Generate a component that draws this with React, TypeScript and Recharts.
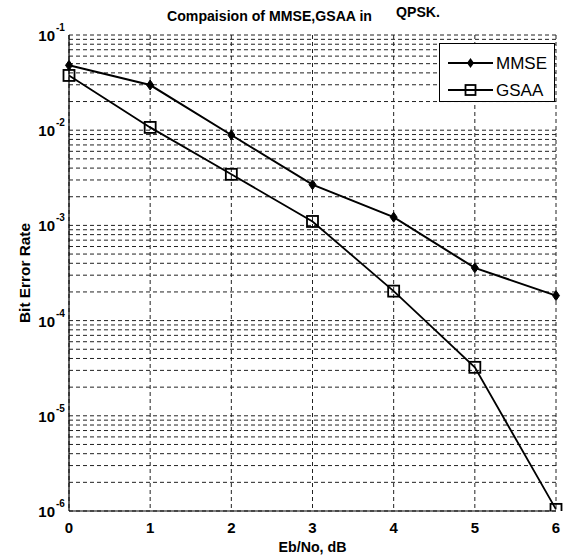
import React from "react";
import {
  LineChart,
  Line,
  XAxis,
  YAxis,
  CartesianGrid,
  Legend,
  Label,
} from "recharts";

// Eb/No (dB) and bit error rate
const ebNo = [0, 1, 2, 3, 4, 5, 6];
const mmseBer = [0.048, 0.0298, 0.0089, 0.00268, 0.00122, 0.000358, 0.000183];
const gsaaBer = [0.0376, 0.0107, 0.00344, 0.0011, 0.000204, 0.0000323, 0.00000104];

const xTicks = [0, 1, 2, 3, 4, 5, 6];
const yDecades = [1e-6, 1e-5, 1e-4, 1e-3, 1e-2, 1e-1];
const yMinorSteps = [2, 3, 4, 5, 6, 7, 8, 9];

const data = ebNo.map((x, i) => ({ x, mmse: mmseBer[i], gsaa: gsaaBer[i] }));

const yTicks: number[] = [];
yDecades.forEach((d, i) => {
  yTicks.push(d);
  if (i < yDecades.length - 1) yMinorSteps.forEach((m) => yTicks.push(m * d));
});

const FONT = "'Liberation Sans Narrow', 'Liberation Sans', Arial, sans-serif";

const isDecade = (v: number) => {
  const l = Math.log10(v);
  return Math.abs(l - Math.round(l)) < 1e-6;
};

const YTick = (props: any) => {
  const { x, y, payload } = props;
  if (!isDecade(payload.value)) return null;
  const exp = Math.round(Math.log10(payload.value));
  return (
    <g fontFamily={FONT} fontWeight="bold" fill="#000">
      <text x={x - 14} y={y + 6} textAnchor="end" fontSize={15}>
        10
      </text>
      <text x={x - 13} y={y - 4} textAnchor="start" fontSize={10}>
        {exp}
      </text>
    </g>
  );
};

const XTick = (props: any) => {
  const { x, y, payload } = props;
  return (
    <text x={x} y={y + 22} textAnchor="middle" fontFamily={FONT} fontWeight="bold" fontSize={15} fill="#000">
      {payload.value}
    </text>
  );
};

const DiamondDot = (props: any) => {
  const { cx, cy, index } = props;
  if (cx == null || cy == null) return null;
  return (
    <path
      key={`d-${index}`}
      d={`M${cx},${cy - 5} L${cx + 3.5},${cy} L${cx},${cy + 5} L${cx - 3.5},${cy} Z`}
      fill="#000"
      stroke="#000"
      strokeWidth={1}
    />
  );
};

const SquareDot = (props: any) => {
  const { cx, cy, index } = props;
  if (cx == null || cy == null) return null;
  return (
    <rect
      key={`s-${index}`}
      x={cx - 5.5}
      y={cy - 5.5}
      width={11}
      height={11}
      fill="none"
      stroke="#000"
      strokeWidth={1.8}
    />
  );
};

const LegendBox = () => (
  <svg width={116} height={59} style={{ display: "block", background: "#fff" }}>
    <rect x={0.5} y={0.5} width={115} height={58} fill="#fff" stroke="#000" strokeWidth={1} />
    <line x1={9} y1={20} x2={54} y2={20} stroke="#000" strokeWidth={2} />
    <path d="M31.5,15 L35,20 L31.5,25 L28,20 Z" fill="#000" />
    <text x={57} y={26} fontFamily={FONT} fontSize={17} fill="#000">
      MMSE
    </text>
    <line x1={9} y1={47} x2={54} y2={47} stroke="#000" strokeWidth={2} />
    <rect x={26.5} y={42} width={10} height={10} fill="none" stroke="#000" strokeWidth={1.8} />
    <text x={57} y={53} fontFamily={FONT} fontSize={17} fill="#000">
      GSAA
    </text>
  </svg>
);

const YLabel = (props: any) => {
  const { viewBox } = props;
  const cy = viewBox.y + viewBox.height / 2;
  return (
    <text
      transform={`translate(30, ${cy}) rotate(-90)`}
      textAnchor="middle"
      fontFamily={FONT}
      fontWeight="bold"
      fontSize={14}
      textLength={100}
      lengthAdjust="spacingAndGlyphs"
      fill="#000"
    >
      Bit Error Rate
    </text>
  );
};

const XLabel = (props: any) => {
  const { viewBox } = props;
  const cx = viewBox.x + viewBox.width / 2;
  return (
    <text
      x={cx}
      y={viewBox.y + 41}
      textAnchor="middle"
      fontFamily={FONT}
      fontWeight="bold"
      fontSize={15}
      textLength={68}
      lengthAdjust="spacingAndGlyphs"
      fill="#000"
    >
      Eb/No, dB
    </text>
  );
};

export default function App() {
  return (
    <div style={{ position: "absolute", left: 0, top: 0, width: 564, height: 560, background: "#fff" }}>
      <svg
        width={564}
        height={40}
        style={{ position: "absolute", left: 0, top: 0, pointerEvents: "none", zIndex: 2 }}
      >
        <text
          x={167}
          y={21}
          fontFamily={FONT}
          fontWeight="bold"
          fontSize={15}
          textLength={205}
          lengthAdjust="spacingAndGlyphs"
          fill="#000"
        >
          Compaision of MMSE,GSAA in
        </text>
        <text
          x={396}
          y={17}
          fontFamily={FONT}
          fontWeight="bold"
          fontSize={14}
          textLength={44}
          lengthAdjust="spacingAndGlyphs"
          fill="#000"
        >
          QPSK.
        </text>
      </svg>
      <LineChart width={564} height={560} data={data} margin={{ top: 35, right: 8, bottom: 0, left: 0 }}>
        <CartesianGrid stroke="#222" strokeDasharray="4 3" strokeWidth={1} />
        <XAxis
          dataKey="x"
          type="number"
          domain={[0, 6]}
          ticks={xTicks}
          height={49}
          tickLine={false}
          tickSize={0}
          tickMargin={0}
          tick={<XTick />}
          axisLine={{ stroke: "#000", strokeWidth: 1.2 }}
        >
          <Label content={<XLabel />} />
        </XAxis>
        <XAxis
          xAxisId="top"
          orientation="top"
          type="number"
          domain={[0, 1]}
          height={0}
          tick={false}
          tickLine={false}
          axisLine={{ stroke: "#000", strokeWidth: 1.2 }}
        />
        <YAxis
          scale="log"
          type="number"
          domain={[1e-6, 1e-1]}
          allowDataOverflow
          ticks={yTicks}
          interval={0}
          width={69}
          tickLine={false}
          tickSize={0}
          tickMargin={0}
          tick={<YTick />}
          axisLine={{ stroke: "#000", strokeWidth: 1.2 }}
        >
          <Label content={<YLabel />} />
        </YAxis>
        <YAxis
          yAxisId="right"
          orientation="right"
          type="number"
          domain={[0, 1]}
          width={0}
          tick={false}
          tickLine={false}
          axisLine={{ stroke: "#000", strokeWidth: 1.2 }}
        />
        <Legend
          layout="vertical"
          align="center"
          verticalAlign="middle"
          content={<LegendBox />}
          wrapperStyle={{ position: "absolute", left: 439, top: 43, width: 116, height: 59 }}
        />
        <Line
          dataKey="mmse"
          name="MMSE"
          stroke="#000"
          strokeWidth={2}
          dot={<DiamondDot />}
          activeDot={false}
          isAnimationActive={false}
        />
        <Line
          dataKey="gsaa"
          name="GSAA"
          stroke="#000"
          strokeWidth={1.8}
          dot={<SquareDot />}
          activeDot={false}
          isAnimationActive={false}
        />
      </LineChart>
    </div>
  );
}
